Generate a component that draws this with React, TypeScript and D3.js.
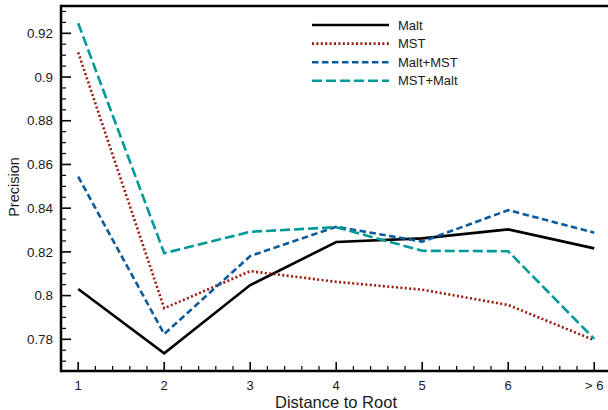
import React from "react";
import * as d3 from "d3";

const categories = ["1", "2", "3", "4", "5", "6", "> 6"];
const seriesNames = ["Malt", "MST", "Malt+MST", "MST+Malt"];
const malt = [0.803, 0.7736, 0.8048, 0.8245, 0.8262, 0.8303, 0.8216];
const mst = [0.9113, 0.7942, 0.8112, 0.8063, 0.8027, 0.7957, 0.7796];
const maltMst = [0.8544, 0.7824, 0.8181, 0.8315, 0.8247, 0.8391, 0.8288];
const mstMalt = [0.9246, 0.8194, 0.8292, 0.8313, 0.8205, 0.8203, 0.7802];
const yTicks = [0.78, 0.8, 0.82, 0.84, 0.86, 0.88, 0.9, 0.92];
const yTickLabels = ["0.78", "0.8", "0.82", "0.84", "0.86", "0.88", "0.9", "0.92"];

const colors = ["#000000", "#991a0e", "#0b5a9a", "#00999a"];
const dashes = ["none", "2 2.4", "6.5 3.5", "10 4"];

const W = 608;
const H = 410;
const FONT = "'Liberation Sans', Arial, Helvetica, sans-serif";

export default function App() {
  const x = d3.scaleLinear().domain([0.8, 7.16]).range([61, 608]);
  const y = d3.scaleLinear().domain([0.7655, 0.9325]).range([371, 6]);
  const data = [malt, mst, maltMst, mstMalt];
  const line = d3
    .line<number>()
    .x((_, i) => x(i + 1))
    .y((d) => y(d));

  const xMinor = d3.range(0, 32).map((i) => 0.8 + i * 0.2).filter((v) => Math.abs(v - Math.round(v)) > 1e-6);
  const yMinor = d3.range(0, 40).map((i) => 0.77 + i * 0.005).filter((v) => v < 0.932 && !yTicks.some((t) => Math.abs(t - v) < 1e-6));

  const left = x(0.8);
  const bottom = y(0.7655);
  const top = y(0.9325);

  return (
    <svg width={W} height={H} style={{ position: "absolute", left: 0, top: 0, background: "#fff" }} fontFamily={FONT}>
      <rect x={0} y={0} width={W} height={H} fill="#fff" />
      {data.map((s, k) => (
        <path
          key={k}
          d={line(s) || ""}
          fill="none"
          stroke={colors[k]}
          strokeWidth={2.6}
          strokeDasharray={dashes[k]}
          strokeLinejoin="miter"
        />
      ))}
      {/* spines */}
      <line x1={left} x2={W} y1={top} y2={top} stroke="#000" strokeWidth={2.5} />
      <line x1={left} x2={W} y1={bottom} y2={bottom} stroke="#000" strokeWidth={2.5} />
      <line x1={left} x2={left} y1={top - 1.25} y2={bottom + 1.25} stroke="#000" strokeWidth={2.5} />
      {/* x ticks */}
      {categories.map((c, i) => (
        <g key={c}>
          <line x1={x(i + 1)} x2={x(i + 1)} y1={bottom} y2={bottom - 9} stroke="#000" strokeWidth={1.6} />
          <text x={x(i + 1)} y={390} fontSize={13} textAnchor="middle" fill="#1a1a1a">
            {c}
          </text>
        </g>
      ))}
      {xMinor.map((v, i) => (
        <line key={i} x1={x(v)} x2={x(v)} y1={bottom} y2={bottom - 5} stroke="#000" strokeWidth={1.2} />
      ))}
      {/* y ticks */}
      {yTicks.map((v, i) => (
        <g key={v}>
          <line x1={left} x2={left + 10} y1={y(v)} y2={y(v)} stroke="#000" strokeWidth={1.6} />
          <text x={53} y={y(v) + 4.7} fontSize={13.4} textAnchor="end" fill="#1a1a1a">
            {yTickLabels[i]}
          </text>
        </g>
      ))}
      {yMinor.map((v, i) => (
        <line key={i} x1={left} x2={left + 5} y1={y(v)} y2={y(v)} stroke="#000" strokeWidth={1.2} />
      ))}
      {/* axis labels */}
      <text x={336} y={408} fontSize={16.5} textAnchor="middle" fill="#1a1a1a">
        Distance to Root
      </text>
      <text transform={`translate(18.5,187) rotate(-90)`} fontSize={14.5} textAnchor="middle" fill="#1a1a1a">
        Precision
      </text>
      {/* legend */}
      {seriesNames.map((n, k) => {
        const ly = 25 + k * 18.6;
        return (
          <g key={n}>
            <line x1={312} x2={389} y1={ly} y2={ly} stroke={colors[k]} strokeWidth={2.6} strokeDasharray={dashes[k]} />
            <text x={398} y={ly + 4.6} fontSize={13} fill="#1a1a1a">
              {n}
            </text>
          </g>
        );
      })}
    </svg>
  );
}
